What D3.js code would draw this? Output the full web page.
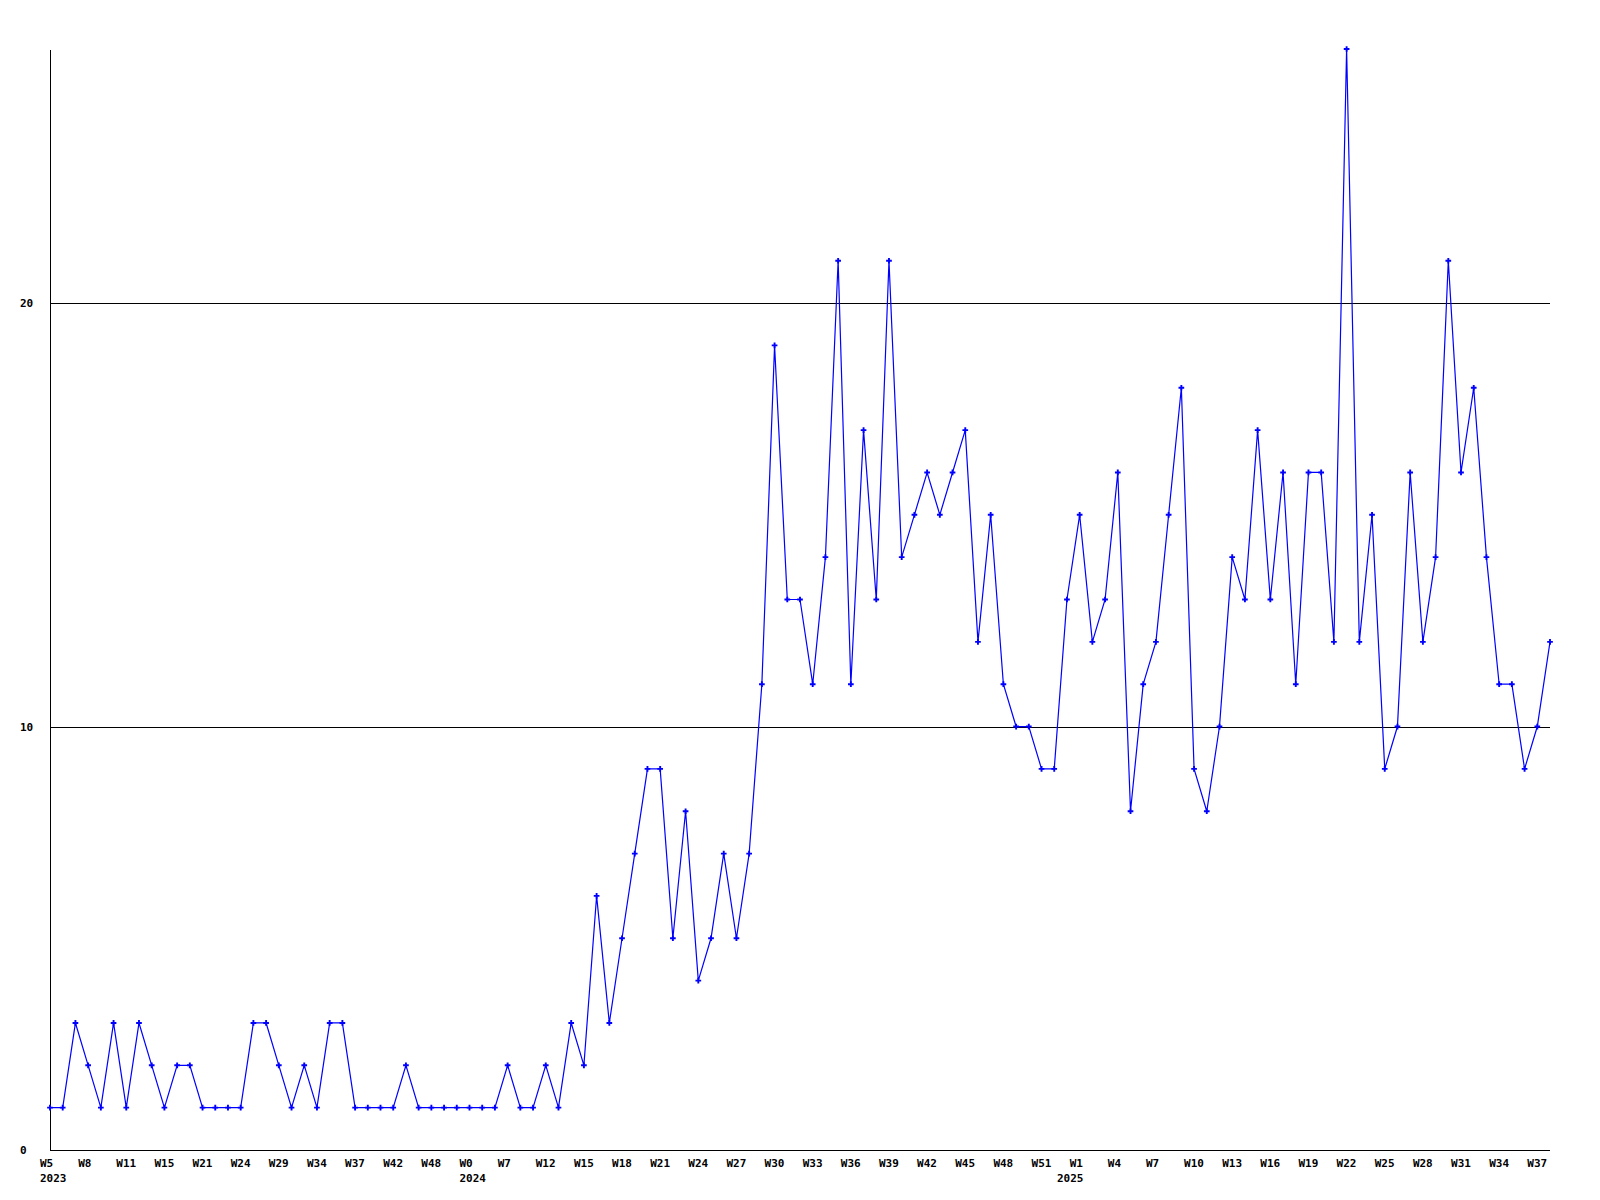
<!DOCTYPE html>
<html>
<head>
<meta charset="utf-8">
<script src="https://cdn.jsdelivr.net/npm/d3@7"></script>
<style>
  html, body { margin: 0; padding: 0; background: #fff; }
  svg { display: block; }
  text { font-family: "DejaVu Sans Mono", "Liberation Mono", monospace; font-weight: bold; font-size: 11px; fill: #000; }
</style>
</head>
<body>
<svg id="chart" width="1600" height="1200"></svg>
<script>
// ---- data ----
const values = [
  1,1,3,2,1,3,1,3,2,1, 2,2,1,1,1,1,3,3,2,1,
  2,1,3,3,1,1,1,1,2,1, 1,1,1,1,1,1,2,1,1,2,
  1,3,2,6,3,5,7,9,9,5, 8,4,5,7,5,7,11,19,13,13,
  11,14,21,11,17,13,21,14,15,16, 15,16,17,12,15,11,10,10,9,9,
  13,15,12,13,16,8,11,12,15,18, 9,8,10,14,13,17,13,16,11,16,
  16,12,26,12,15,9,10,16,12,14, 21,16,18,14,11,11,9,10,12
];
const weekLabels = [
  "W5","W8","W11","W15","W21","W24","W29","W34","W37","W42","W48",
  "W0","W7","W12","W15","W18","W21","W24","W27","W30","W33","W36","W39","W42","W45","W48","W51",
  "W1","W4","W7","W10","W13","W16","W19","W22","W25","W28","W31","W34","W37"
];
const labelStep = 3;                 // one week label every 3 points
const yearLabels = ["2023", "2024", "2025"];
const yearLabelPoint = [0, 33, 80];  // point index where each year label sits
const yTicks = [0, 10, 20];
const yMax = 26;

(function () {
  // ---- layout ----
  const svg = d3.select("#chart");
  const mLeft = 50, mRight = 1550, mTop = 49, mBottom = 1150;

  const x = d3.scaleLinear().domain([0, values.length - 1]).range([mLeft, mRight]);
  const y = d3.scaleLinear().domain([0, yMax]).range([mBottom, mTop]);

  // grid lines at y ticks (except 0)
  svg.append("g").selectAll("line")
    .data(yTicks.filter(d => d > 0))
    .join("line")
    .attr("x1", mLeft).attr("x2", mRight)
    .attr("y1", d => Math.round(y(d)) + 0.5).attr("y2", d => Math.round(y(d)) + 0.5)
    .attr("stroke", "#000").attr("stroke-width", 1)
    .attr("shape-rendering", "crispEdges");

  // axes lines
  svg.append("line")
    .attr("x1", mLeft + 0.5).attr("x2", mLeft + 0.5)
    .attr("y1", 50).attr("y2", mBottom + 0.5)
    .attr("stroke", "#000").attr("shape-rendering", "crispEdges");
  svg.append("line")
    .attr("x1", mLeft).attr("x2", mRight)
    .attr("y1", mBottom + 0.5).attr("y2", mBottom + 0.5)
    .attr("stroke", "#000").attr("shape-rendering", "crispEdges");

  // y tick labels
  svg.append("g").selectAll("text")
    .data(yTicks)
    .join("text")
    .attr("x", 20)
    .attr("y", d => y(d) + 4)
    .attr("text-anchor", "start")
    .text(d => d);

  // x tick labels
  svg.append("g").selectAll("text")
    .data(weekLabels)
    .join("text")
    .attr("x", (d, i) => x(i * labelStep) - 10)
    .attr("y", 1167)
    .attr("text-anchor", "start")
    .text(d => d);

  svg.append("g").selectAll("text")
    .data(yearLabels)
    .join("text")
    .attr("x", (d, i) => x(yearLabelPoint[i]) - 10)
    .attr("y", 1182)
    .attr("text-anchor", "start")
    .text(d => d);

  // data line
  const line = d3.line().x((d, i) => x(i)).y(d => y(d));
  svg.append("path")
    .datum(values)
    .attr("d", line)
    .attr("fill", "none")
    .attr("stroke", "#0000ff")
    .attr("stroke-width", 1.2);

  // markers
  svg.append("g").selectAll("path")
    .data(values)
    .join("path")
    .attr("transform", (d, i) => `translate(${x(i)},${y(d)})`)
    .attr("d", d3.symbol().type(d3.symbolCross).size(18))
    .attr("fill", "#0000ff");
})();
</script>
</body>
</html>
